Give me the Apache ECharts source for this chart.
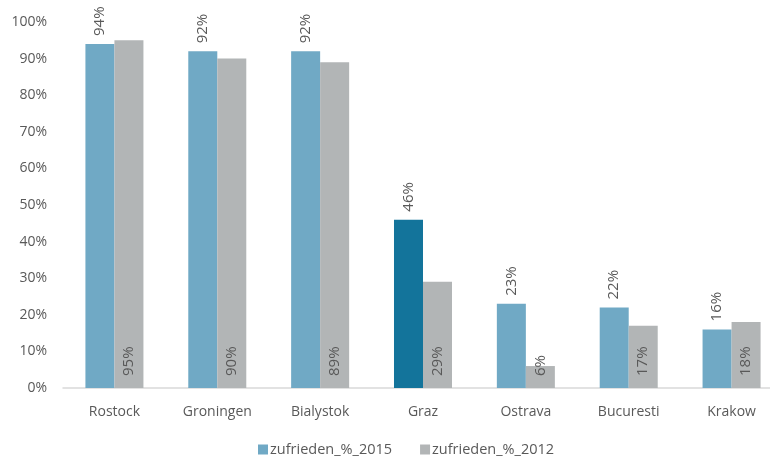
<!DOCTYPE html>
<html>
<head>
<meta charset="utf-8">
<script src="https://cdn.jsdelivr.net/npm/echarts@6/dist/echarts.min.js"></script>
<style>
  html, body { margin: 0; padding: 0; background: #fff; }
  #main { width: 770px; height: 459px; }
</style>
</head>
<body>
<div id="main"></div>
<script>
var cities = ['Rostock', 'Groningen', 'Bialystok', 'Graz', 'Ostrava', 'Bucuresti', 'Krakow'];
var values2015 = [94, 92, 92, 46, 23, 22, 16];
var values2012 = [95, 90, 89, 29, 6, 17, 18];
var highlightCity = 'Graz';

var textColor = '#595959';
var font = 'Open Sans';

var data2015 = values2015.map(function (v, i) {
    if (cities[i] === highlightCity) {
        return { value: v, itemStyle: { color: '#13749B' } };
    }
    return v;
});

var myChart = echarts.init(document.getElementById('main'));
myChart.setOption({
    animation: false,
    textStyle: { fontFamily: font },
    grid: {
        left: 63,
        top: 22,
        width: 720,
        bottom: 71,
        outerBoundsMode: 'none'
    },
    legend: {
        top: 437,
        left: 253,
        icon: 'rect',
        itemWidth: 10,
        itemHeight: 10,
        itemGap: 28,
        itemStyle: { borderWidth: 0 },
        textStyle: { color: textColor, fontSize: 14.5, fontFamily: font, padding: [0, 0, 0, -3] },
        data: ['zufrieden_%_2015', 'zufrieden_%_2012']
    },
    xAxis: {
        type: 'category',
        data: cities,
        axisLine: { lineStyle: { color: '#D9D9D9', width: 1.5 } },
        axisTick: { show: false },
        axisLabel: { color: textColor, fontSize: 14, margin: 17 }
    },
    yAxis: {
        type: 'value',
        min: 0,
        max: 100,
        interval: 10,
        splitLine: { show: false },
        axisLine: { show: false },
        axisTick: { show: false },
        axisLabel: {
            color: textColor,
            fontSize: 14,
            margin: 16,
            formatter: '{value}%'
        }
    },
    series: [{
        name: 'zufrieden_%_2015',
        type: 'bar',
        data: data2015,
        barGap: '0%',
        barCategoryGap: '43.6%',
        itemStyle: { color: '#70A9C5' },
        label: {
            show: true,
            position: 'top',
            rotate: 90,
            align: 'left',
            verticalAlign: 'middle',
            distance: 8,
            color: textColor,
            fontSize: 15,
            formatter: '{c}%'
        }
    }, {
        name: 'zufrieden_%_2012',
        type: 'bar',
        data: values2012,
        itemStyle: { color: '#B2B5B6' },
        label: {
            show: true,
            position: 'insideBottom',
            rotate: 90,
            align: 'left',
            verticalAlign: 'middle',
            distance: 12,
            color: textColor,
            fontSize: 15,
            formatter: '{c}%'
        }
    }]
});
</script>
</body>
</html>
